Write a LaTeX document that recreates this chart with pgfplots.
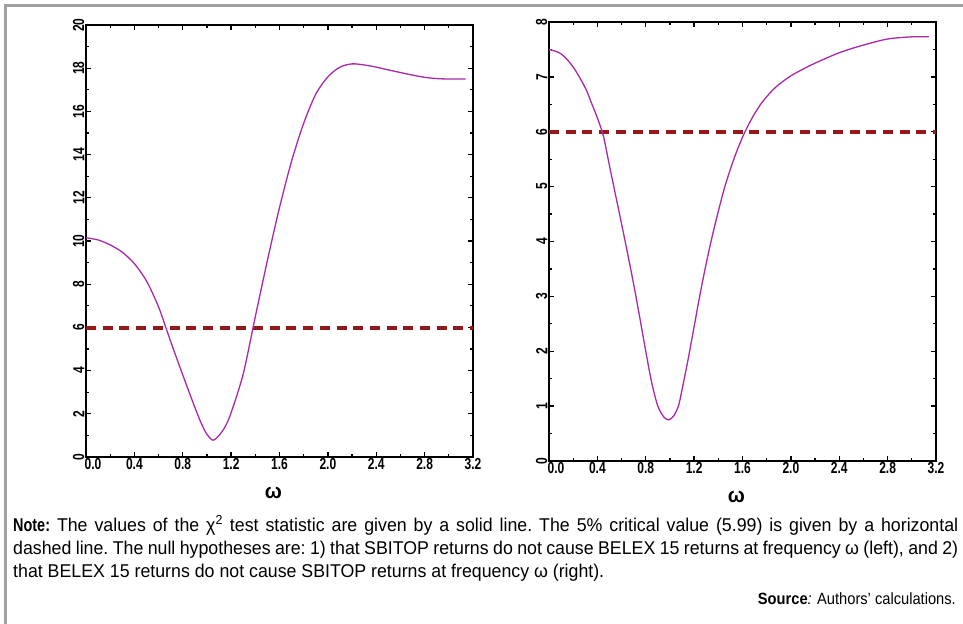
\documentclass[border=0pt]{standalone}
\usepackage{fontspec}
\setmainfont{Liberation Sans}[FakeStretch=0.96]
\newfontfamily\notebold{Liberation Sans}[FakeStretch=0.78]
\newfontfamily\srcfont{Liberation Sans}[FakeStretch=0.9]
\newfontfamily\tickfont{Liberation Sans}[FakeStretch=0.75]
\usepackage{pgfplots}
\pgfplotsset{compat=1.18}

\definecolor{curve}{RGB}{170,40,170}
\definecolor{crit}{RGB}{150,25,25}
\definecolor{frame}{RGB}{160,160,160}

\pgfplotsset{
  omega/.style={
    scale only axis,
    anchor=south west,
    width=387bp,
    xmin=0, xmax=3.2,
    xtick={0,0.4,0.8,1.2,1.6,2.0,2.4,2.8,3.2},
    xticklabels={\hspace*{14bp}0.0,0.4,0.8,1.2,1.6,2.0,2.4,2.8,3.2},
    minor x tick num=1,
    minor y tick num=1,
    tick align=inside,
    major tick length=5bp,
    minor tick length=3bp,
    axis line style={line width=2bp},
    every tick/.style={black, line width=1.3bp},
    /pgf/number format/assume math mode=true,
    every tick label/.append style={font=\tickfont\bfseries\fontsize{16bp}{18bp}\selectfont},
    xticklabel style={inner sep=1.5bp},
    yticklabel style={rotate=90, anchor=south, inner sep=1.5bp},
    xlabel={ω},
    xlabel style={font=\bfseries\fontsize{21bp}{23bp}\selectfont,
      at={(axis description cs:0.5,0)}, anchor=base, yshift=-41bp, xshift=-6bp},
  },
  stat/.style={color=curve, line width=1.3bp, smooth},
  cv/.style={color=crit, line width=3.8bp, dash pattern=on 10bp off 6.7bp},
}

\begin{document}
\begin{tikzpicture}
\path[use as bounding box] (0,0) rectangle (963bp,-624bp);
\draw[line width=3bp, color=frame] (5.5bp,-624bp) -- (5.5bp,-5.5bp) -- (963bp,-5.5bp);

% left: SBITOP -> BELEX 15
\begin{axis}[omega, at={(86bp,-457bp)}, height=432bp,
  ymin=0, ymax=20, ytick={0,2,4,6,8,10,12,14,16,18,20}]
\addplot[cv] coordinates {(0,5.99)(3.2,5.99)};
\addplot[stat] coordinates {
  (0,10.15)(0.1,10.05)(0.2,9.82)(0.3,9.48)(0.4,8.95)(0.5,8.15)(0.6,6.95)(0.7,5.35)
  (0.8,3.8)(0.9,2.3)(0.95,1.6)(1.0,1.05)(1.05,0.78)(1.1,1.0)(1.15,1.4)(1.2,2.05)
  (1.3,3.85)(1.4,6.5)(1.5,9.1)(1.6,11.55)(1.7,13.7)(1.8,15.45)(1.9,16.8)(2.0,17.6)
  (2.1,18.05)(2.2,18.2)(2.3,18.15)(2.4,18.05)(2.5,17.92)(2.6,17.8)(2.7,17.68)
  (2.8,17.58)(2.9,17.52)(3.0,17.5)(3.14,17.5)};
\end{axis}

% right: BELEX 15 -> SBITOP
\begin{axis}[omega, at={(549bp,-461bp)}, height=439bp,
  ymin=0, ymax=8, ytick={0,1,2,3,4,5,6,7,8}]
\addplot[cv] coordinates {(0,5.99)(3.2,5.99)};
\addplot[stat] coordinates {
  (0,7.50)(0.1,7.42)(0.2,7.18)(0.3,6.8)(0.35,6.53)(0.4,6.25)(0.45,5.92)(0.5,5.38)
  (0.55,4.85)(0.6,4.32)(0.65,3.78)(0.7,3.22)(0.75,2.62)(0.8,2.0)(0.85,1.42)(0.9,1.0)
  (0.95,0.8)(0.99,0.75)(1.03,0.82)(1.07,1.0)(1.1,1.3)(1.15,1.85)(1.2,2.45)(1.25,3.05)
  (1.3,3.6)(1.35,4.1)(1.4,4.55)(1.45,4.97)(1.5,5.32)(1.55,5.63)(1.6,5.9)(1.65,6.13)
  (1.7,6.33)(1.75,6.5)(1.8,6.64)(1.85,6.76)(1.9,6.86)(2.0,7.02)(2.1,7.14)(2.2,7.25)
  (2.4,7.44)(2.6,7.58)(2.8,7.69)(3.0,7.73)(3.14,7.73)};
\end{axis}

\begin{scope}[every node/.style={inner sep=0pt, font=\fontsize{18.5bp}{23bp}\selectfont}]
\node[anchor=base west] at (13bp,-531bp) {\frenchspacing\makebox[945bp][s]{{\notebold\bfseries Note:} The values of the χ\textsuperscript{2} test statistic are given by a solid line. The 5\% critical value (5.99) is given by a horizontal}};
\node[anchor=base west] at (13bp,-554bp) {\frenchspacing\makebox[945bp][s]{dashed line. The null hypotheses are: 1) that SBITOP returns do not cause BELEX 15 returns at frequency ω (left), and 2)}};
\node[anchor=base west] at (13bp,-577bp) {that BELEX 15 returns do not cause SBITOP returns at frequency ω (right).};
\node[anchor=base east, font=\srcfont\fontsize{16.3bp}{20bp}\selectfont] at (956bp,-604bp) {\textbf{Source}\textit{:} Authors’ calculations.};
\end{scope}
\end{tikzpicture}
\end{document}
